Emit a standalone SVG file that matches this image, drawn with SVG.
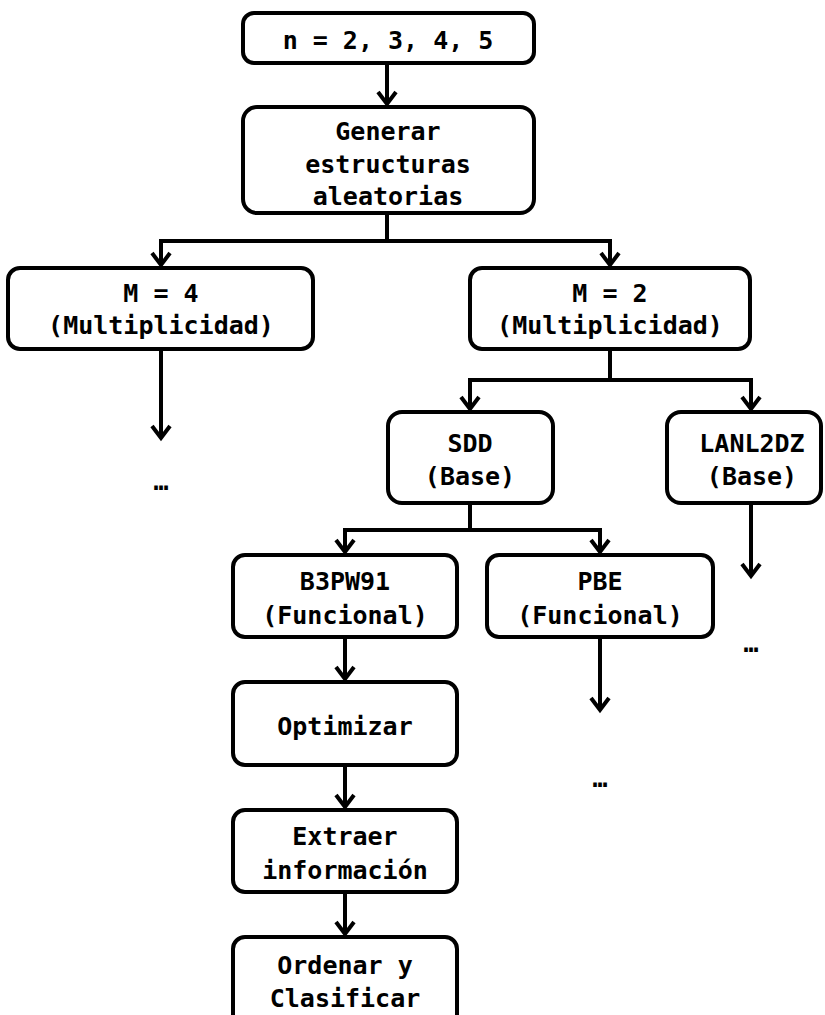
<svg xmlns="http://www.w3.org/2000/svg" width="825" height="1015" viewBox="0 0 825 1015">
<defs>
<style>
.box{fill:#fff;stroke:#000;stroke-width:4}
.t{font-family:"DejaVu Sans Mono","Liberation Mono",monospace;font-weight:bold;font-size:25px;fill:#000;text-anchor:middle}
.c{fill:none;stroke:#000;stroke-width:4;stroke-linejoin:miter}
</style>
<marker id="ah" viewBox="-16 -12 20 24" refX="0" refY="0" markerWidth="20" markerHeight="24" markerUnits="userSpaceOnUse" orient="auto">
<path d="M-12,-9 L0,0 L-12,9" fill="none" stroke="#000" stroke-width="4" stroke-linejoin="miter"/>
</marker>
</defs>
<rect width="825" height="1015" fill="#fff"/>
<g id="connectors">
<path class="c" d="M387,63 V104" marker-end="url(#ah)"/>
<path class="c" d="M387,213 V241 H161 V265" marker-end="url(#ah)"/>
<path class="c" d="M387,241 H610 V265" marker-end="url(#ah)"/>
<path class="c" d="M161,349 V438" marker-end="url(#ah)"/>
<path class="c" d="M610,349 V380 H470 V409" marker-end="url(#ah)"/>
<path class="c" d="M610,380 H751 V409" marker-end="url(#ah)"/>
<path class="c" d="M470,503 V530 H345 V552" marker-end="url(#ah)"/>
<path class="c" d="M470,530 H600 V552" marker-end="url(#ah)"/>
<path class="c" d="M751,503 V576" marker-end="url(#ah)"/>
<path class="c" d="M345,637 V679" marker-end="url(#ah)"/>
<path class="c" d="M600,637 V710" marker-end="url(#ah)"/>
<path class="c" d="M345,765 V807" marker-end="url(#ah)"/>
<path class="c" d="M345,892 V934" marker-end="url(#ah)"/>
</g>
<g id="n-values">
<rect class="box" x="243" y="13" width="291" height="50" rx="11"/>
<text class="t" x="388" y="49">n = 2, 3, 4, 5</text>
</g>
<g id="generar">
<rect class="box" x="243" y="107" width="291" height="106" rx="14"/>
<text class="t" x="388" y="140">Generar</text>
<text class="t" x="388" y="173">estructuras</text>
<text class="t" x="388" y="205">aleatorias</text>
</g>
<g id="m4">
<rect class="box" x="8" y="268" width="305" height="81" rx="12"/>
<text class="t" x="161" y="302">M = 4</text>
<text class="t" x="161" y="334">(Multiplicidad)</text>
</g>
<g id="m4-more">
<text class="t" x="161" y="490">…</text>
</g>
<g id="m2">
<rect class="box" x="470" y="268" width="280" height="81" rx="12"/>
<text class="t" x="610" y="302">M = 2</text>
<text class="t" x="610" y="334">(Multiplicidad)</text>
</g>
<g id="sdd">
<rect class="box" x="388" y="412" width="165" height="91" rx="14"/>
<text class="t" x="470" y="452">SDD</text>
<text class="t" x="470" y="485">(Base)</text>
</g>
<g id="lanl2dz">
<rect class="box" x="667" y="412" width="154" height="91" rx="14"/>
<text class="t" x="752" y="452">LANL2DZ</text>
<text class="t" x="752" y="485">(Base)</text>
</g>
<g id="lanl2dz-more">
<text class="t" x="751" y="652">…</text>
</g>
<g id="b3pw91">
<rect class="box" x="233" y="555" width="224" height="82" rx="12"/>
<text class="t" x="345" y="590">B3PW91</text>
<text class="t" x="345" y="624">(Funcional)</text>
</g>
<g id="pbe">
<rect class="box" x="487" y="555" width="226" height="82" rx="12"/>
<text class="t" x="600" y="590">PBE</text>
<text class="t" x="600" y="624">(Funcional)</text>
</g>
<g id="pbe-more">
<text class="t" x="600" y="787">…</text>
</g>
<g id="optimizar">
<rect class="box" x="233" y="682" width="224" height="83" rx="12"/>
<text class="t" x="345" y="735">Optimizar</text>
</g>
<g id="extraer">
<rect class="box" x="233" y="810" width="224" height="82" rx="12"/>
<text class="t" x="345" y="845">Extraer</text>
<text class="t" x="345" y="879">información</text>
</g>
<g id="ordenar">
<rect class="box" x="233" y="937" width="224" height="95" rx="12"/>
<text class="t" x="345" y="974">Ordenar y</text>
<text class="t" x="345" y="1007">Clasificar</text>
</g>
</svg>
